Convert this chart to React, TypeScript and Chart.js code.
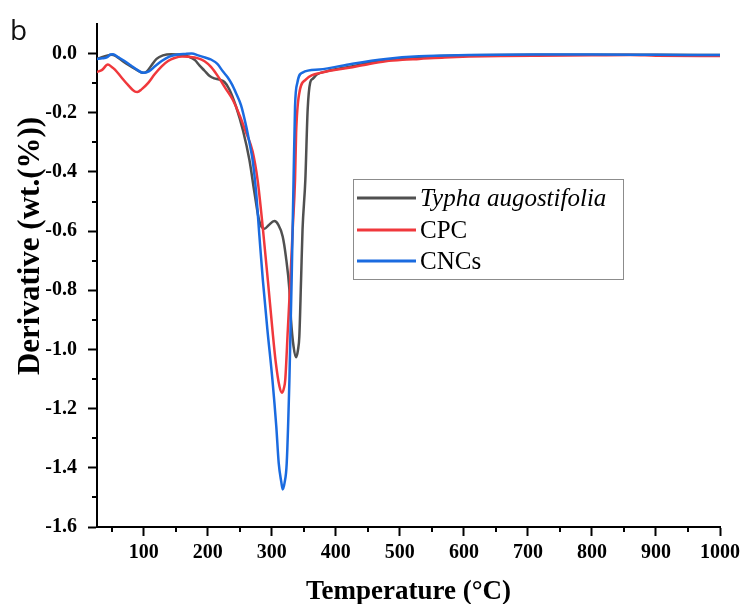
import React, { useEffect, useRef } from 'react';
import { Chart, registerables } from 'chart.js';

Chart.register(...registerables);

const seriesNames = ['Typha augostifolia', 'CPC', 'CNCs'];
const seriesColors = ['#505050', '#f0383c', '#1a6be0'];

const typhaTemp = [27, 50, 70, 85, 99, 105, 112, 120, 130, 143, 160, 170, 180, 187, 195, 203, 210, 218, 226, 234, 244, 255, 265, 273, 280, 284, 288.5, 295, 304, 310, 317, 322, 327.5, 330, 334, 338, 341, 343, 345.7, 348, 352.4, 356, 360, 364, 371, 385, 420, 478, 530, 608, 712, 800, 900, 1000];
const typhaDeriv = [-0.018, -0.004, -0.03, -0.05, -0.065, -0.06, -0.04, -0.018, -0.006, -0.002, -0.004, -0.01, -0.022, -0.04, -0.058, -0.076, -0.084, -0.088, -0.096, -0.122, -0.178, -0.26, -0.359, -0.471, -0.562, -0.586, -0.592, -0.58, -0.566, -0.578, -0.618, -0.686, -0.798, -0.9, -0.99, -1.026, -1.0, -0.956, -0.765, -0.595, -0.426, -0.19, -0.098, -0.085, -0.07, -0.06, -0.045, -0.022, -0.012, -0.006, -0.004, -0.004, -0.004, -0.005];

const cpcTemp = [27, 35, 44, 50, 55, 65, 75, 86, 90, 97, 107, 117, 128, 138, 148, 160, 170, 185, 195, 205, 216, 227, 239, 250, 260, 270, 278, 286, 294, 301, 306, 312, 316, 319, 321, 325, 329, 332.6, 336.3, 338, 343, 353, 364, 374, 400, 426, 452, 478, 504, 530, 570, 608, 660, 712, 800, 860, 900, 1000];
const cpcDeriv = [-0.062, -0.055, -0.037, -0.045, -0.054, -0.08, -0.105, -0.128, -0.13, -0.12, -0.099, -0.07, -0.043, -0.025, -0.015, -0.01, -0.011, -0.016, -0.026, -0.045, -0.077, -0.115, -0.156, -0.21, -0.268, -0.33, -0.43, -0.59, -0.77, -0.934, -1.04, -1.125, -1.146, -1.13, -1.103, -0.934, -0.765, -0.595, -0.426, -0.268, -0.133, -0.088, -0.072, -0.066, -0.055, -0.046, -0.035, -0.026, -0.021, -0.018, -0.013, -0.01, -0.008, -0.007, -0.006, -0.005, -0.007, -0.008];

const cncTemp = [27, 35, 43, 48, 52, 60, 70, 80, 90, 99, 108, 118, 128, 140, 153, 165, 175, 185, 197, 205, 215, 223.5, 231, 238, 244, 252, 260, 265, 270, 275.6, 280.7, 286, 293, 301, 307, 310.8, 315, 317, 320, 323.3, 327.5, 331, 334, 336.3, 340, 348, 374, 426, 478, 530, 608, 712, 800, 900, 1000];
const cncDeriv = [-0.018, -0.016, -0.012, -0.003, -0.002, -0.012, -0.025, -0.04, -0.055, -0.065, -0.06, -0.042, -0.025, -0.01, -0.003, -0.001, 0.0, -0.006, -0.014, -0.02, -0.035, -0.06, -0.08, -0.105, -0.133, -0.175, -0.246, -0.3, -0.359, -0.471, -0.618, -0.765, -0.93, -1.103, -1.26, -1.384, -1.45, -1.473, -1.45, -1.384, -1.103, -0.765, -0.426, -0.179, -0.098, -0.064, -0.054, -0.034, -0.018, -0.009, -0.005, -0.003, -0.003, -0.004, -0.005];

const xTickValues = [100, 200, 300, 400, 500, 600, 700, 800, 900, 1000];
const xMinorValues = [50, 150, 250, 350, 450, 550, 650, 750, 850, 950];
const yTickValues = [-1.6, -1.4, -1.2, -1.0, -0.8, -0.6, -0.4, -0.2, 0.0];
const yMinorValues = [-1.5, -1.3, -1.1, -0.9, -0.7, -0.5, -0.3, -0.1];

const panelLabel = 'b';
const xTitle = 'Temperature (°C)';
const yTitle = 'Derivative (wt.(%))';

const toPoints = (xs: number[], ys: number[]) => xs.map((x, i) => ({ x, y: ys[i] }));

const decorPlugin = {
  id: 'decor',
  afterDraw(chart: any) {
    const ctx = chart.ctx as CanvasRenderingContext2D;
    const xs = chart.scales.x;
    const ys = chart.scales.y;
    const area = chart.chartArea;
    ctx.save();
    ctx.strokeStyle = '#000';
    ctx.lineWidth = 2;
    ctx.beginPath();
    xMinorValues.forEach((v) => {
      const px = Math.round(xs.getPixelForValue(v));
      ctx.moveTo(px, area.bottom);
      ctx.lineTo(px, area.bottom + 5);
    });
    yMinorValues.forEach((v) => {
      const py = Math.round(ys.getPixelForValue(v));
      ctx.moveTo(area.left - 5, py);
      ctx.lineTo(area.left, py);
    });
    ctx.stroke();

    ctx.save();
    ctx.translate(31, 246);
    ctx.rotate(-Math.PI / 2);
    ctx.font = "bold 31px 'Liberation Serif'";
    ctx.fillStyle = '#000';
    ctx.textAlign = 'center';
    ctx.textBaseline = 'middle';
    ctx.fillText(yTitle, 0, 0);
    ctx.restore();

    ctx.font = "28px 'Open Sans'";
    ctx.fillStyle = '#111';
    ctx.textAlign = 'left';
    ctx.textBaseline = 'alphabetic';
    ctx.fillText(panelLabel, 10, 39.5);

    const bx = 353.5, by = 179.5, bw = 270, bh = 100;
    ctx.strokeStyle = '#8c8c8c';
    ctx.lineWidth = 1;
    ctx.strokeRect(bx, by, bw, bh);
    const rowY = [198, 230, 261];
    const baseY = [206, 238, 269];
    chart.data.datasets.forEach((ds: any, i: number) => {
      ctx.strokeStyle = ds.borderColor;
      ctx.lineWidth = 3;
      ctx.beginPath();
      ctx.moveTo(357, rowY[i]);
      ctx.lineTo(416, rowY[i]);
      ctx.stroke();
      ctx.fillStyle = '#000';
      ctx.font = (i === 0 ? 'italic ' : '') + "25px 'Liberation Serif'";
      ctx.textBaseline = 'alphabetic';
      ctx.fillText(ds.label, 420, baseY[i]);
    });
    ctx.restore();
  },
};

export default function App() {
  const canvasRef = useRef<HTMLCanvasElement | null>(null);

  useEffect(() => {
    document.body.style.margin = '0';
    const canvas = canvasRef.current;
    if (!canvas) return;
    const tickFont = { family: "'Liberation Serif'", size: 20, weight: 'bold' as const };
    const chart = new Chart(canvas, {
      type: 'line',
      data: {
        datasets: [
          { label: seriesNames[0], data: toPoints(typhaTemp, typhaDeriv), borderColor: seriesColors[0], order: 2 },
          { label: seriesNames[1], data: toPoints(cpcTemp, cpcDeriv), borderColor: seriesColors[1], order: 1 },
          { label: seriesNames[2], data: toPoints(cncTemp, cncDeriv), borderColor: seriesColors[2], order: 0 },
        ].map((d) => ({
          ...d,
          borderWidth: 2.5,
          pointRadius: 0,
          fill: false,
          cubicInterpolationMode: 'monotone' as const,
          borderJoinStyle: 'round' as const,
          borderCapStyle: 'round' as const,
        })),
      },
      options: {
        responsive: false,
        animation: false,
        devicePixelRatio: 1,
        layout: { padding: { top: 24, right: 23, left: 0, bottom: 0 } },
        plugins: { legend: { display: false }, tooltip: { enabled: false }, title: { display: false } },
        scales: {
          x: {
            type: 'linear',
            min: 27,
            max: 1000,
            grid: { display: true, drawOnChartArea: false, drawTicks: true, tickLength: 9, tickWidth: 2, tickColor: '#000' },
            border: { display: true, color: '#000', width: 2 },
            ticks: {
              color: '#000',
              font: tickFont,
              padding: 5,
              maxRotation: 0,
              autoSkip: false,
              callback: (v: any) => String(v),
            },
            afterBuildTicks: (s: any) => {
              s.ticks = xTickValues.map((v) => ({ value: v }));
            },
            afterFit: (s: any) => {
              s.height = 77;
            },
            title: {
              display: true,
              text: xTitle,
              color: '#000',
              font: { family: "'Liberation Serif'", size: 27, weight: 'bold', lineHeight: 0.9 },
              padding: 0,
            },
          },
          y: {
            type: 'linear',
            min: -1.6,
            max: 0.1,
            grid: { display: true, drawOnChartArea: false, drawTicks: true, tickLength: 9, tickWidth: 2, tickColor: '#000' },
            border: { display: true, color: '#000', width: 2 },
            ticks: {
              color: '#000',
              font: tickFont,
              padding: 11,
              autoSkip: false,
              callback: (v: any) => Number(v).toFixed(1),
            },
            afterBuildTicks: (s: any) => {
              s.ticks = yTickValues.map((v) => ({ value: v }));
            },
            afterFit: (s: any) => {
              s.width = 97;
            },
          },
        },
      },
      plugins: [decorPlugin],
    } as any);
    return () => chart.destroy();
  }, []);

  return (
    <div style={{ width: 745, height: 604 }}>
      <canvas ref={canvasRef} width={745} height={604} style={{ display: 'block' }} />
    </div>
  );
}
